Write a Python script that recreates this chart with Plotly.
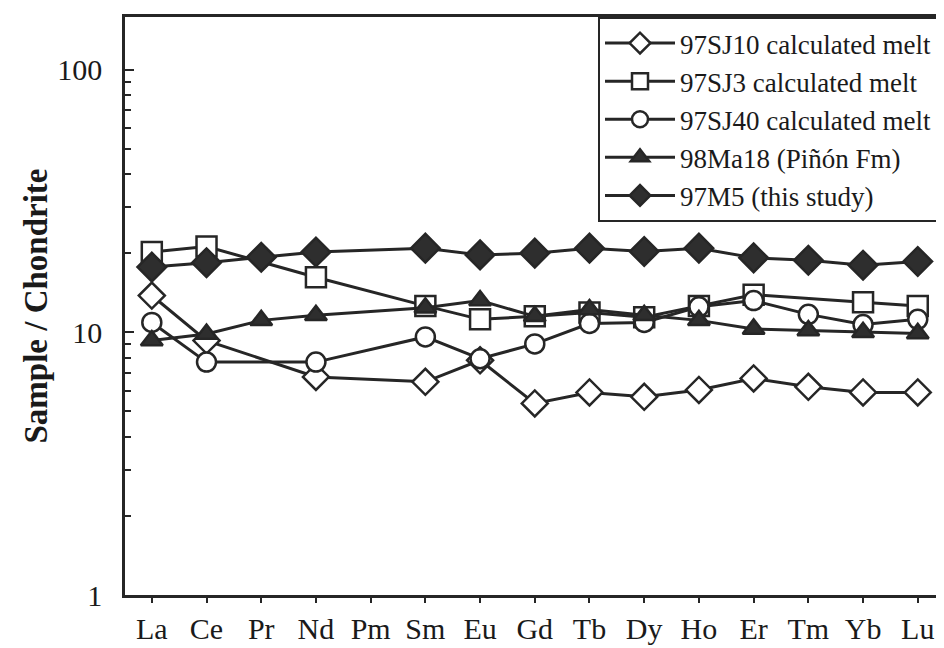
import plotly.graph_objects as go

ree = ["La", "Ce", "Pr", "Nd", "Pm", "Sm", "Eu", "Gd", "Tb", "Dy", "Ho", "Er", "Tm", "Yb", "Lu"]

sj10 = [13.8, 9.3, None, 6.76, None, 6.48, 7.82, 5.36, 5.90, 5.68, 6.03, 6.67, 6.20, 5.90, 5.90]
sj3 = [20.2, 21.2, None, 16.2, None, 12.6, 11.2, 11.5, 11.9, 11.4, 12.6, 13.9, None, 13.0, 12.6]
sj40 = [10.9, 7.7, None, 7.7, None, 9.6, 7.93, 9.03, 10.8, 10.9, 12.5, 13.2, 11.7, 10.7, 11.2]
ma18 = [9.3, 9.85, 11.1, 11.6, None, 12.4, 13.2, 11.5, 12.2, 11.6, 11.1, 10.3, 10.15, 10.0, 9.9]
m5 = [17.7, 18.4, 19.3, 20.2, None, 20.9, 19.7, 20.0, 20.9, 20.3, 20.9, 19.2, 18.8, 18.0, 18.6]

names = ["97SJ10 calculated melt", "97SJ3 calculated melt", "97SJ40 calculated melt",
         "98Ma18 (Piñón Fm)", "97M5 (this study)"]
symbols = ["diamond", "square", "circle", "triangle-up", "diamond"]
sizes = [20, 20, 19, 19, 22]
fills = ["white", "white", "white", "#2e2e2e", "#2e2e2e"]
series = [sj10, sj3, sj40, ma18, m5]

ink = "#262626"
serif = "Liberation Serif, Times New Roman, serif"

fig = go.Figure()
for nm, ys, sym, sz, fc in zip(names, series, symbols, sizes, fills):
    fig.add_trace(go.Scatter(
        x=ree, y=ys, name=nm, mode="lines+markers", connectgaps=True,
        line=dict(color=ink, width=3),
        marker=dict(symbol=sym, size=sz, color=fc, line=dict(color=ink, width=2.5)),
    ))

minor_vals = [v * m for m in (1, 10, 100) for v in range(2, 10)]

fig.update_layout(
    width=936, height=640,
    margin=dict(l=117, r=3, t=9, b=48),
    paper_bgcolor="white", plot_bgcolor="white",
    font=dict(family=serif, color="#1a1a1a"),
    showlegend=True,
    legend=dict(
        x=1, xanchor="right", y=1, yanchor="top",
        bgcolor="white", bordercolor=ink, borderwidth=2,
        font=dict(family=serif, size=27, color="#1a1a1a"),
        itemwidth=70, tracegroupgap=0,
    ),
    xaxis=dict(
        type="category", categoryorder="array", categoryarray=ree,
        range=[-0.49, 14.37],
        showline=True, linecolor=ink, linewidth=2.5, mirror=True,
        ticks="outside", ticklen=5, tickwidth=2, tickcolor=ink,
        tickfont=dict(family=serif, size=30, color="#1a1a1a"),
        showgrid=False, zeroline=False,
    ),
    yaxis=dict(
        type="log", range=[0, 2.2],
        tickvals=[1, 10, 100], ticktext=["1", "10", "100"],
        showline=True, linecolor=ink, linewidth=2.5, mirror=True,
        ticks="inside", ticklen=9, tickwidth=2, tickcolor=ink,
        minor=dict(tickvals=minor_vals, ticks="inside", ticklen=6, tickwidth=2, tickcolor=ink),
        tickfont=dict(family=serif, size=30, color="#1a1a1a"),
        ticklabelstandoff=14,
        showgrid=False, zeroline=False,
        title=dict(text="<b>Sample / Chondrite</b>",
                   font=dict(family=serif, size=33, color="#1a1a1a"), standoff=0),
    ),
)

fig.write_html("out.html")
